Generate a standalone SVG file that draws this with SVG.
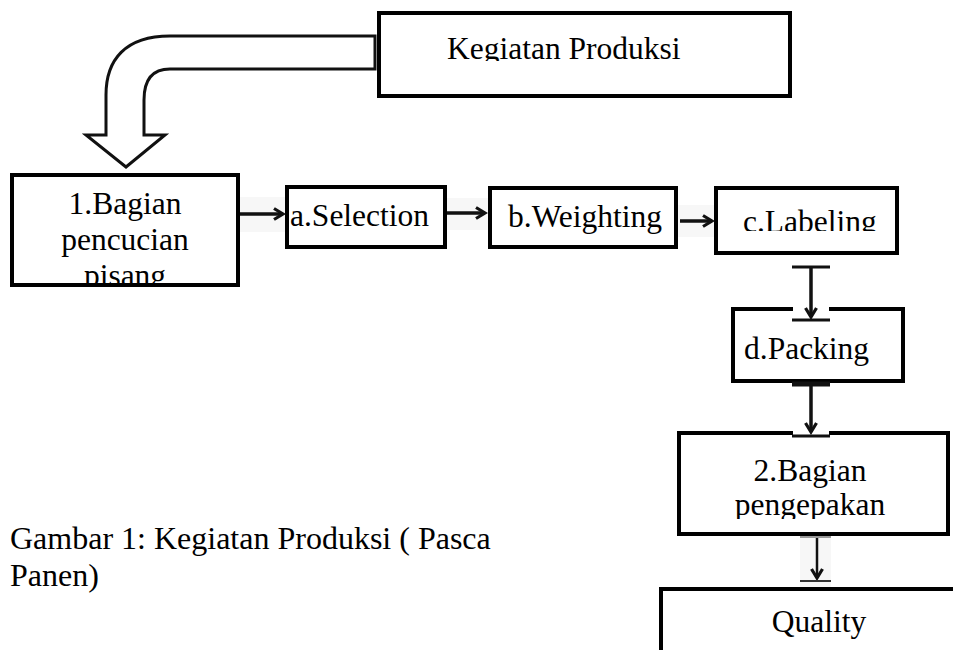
<svg xmlns="http://www.w3.org/2000/svg" width="953" height="650" viewBox="0 0 953 650">
<style>
.box{fill:#fff;stroke:#000;stroke-width:4}
.t{font-family:"Liberation Serif","Times New Roman",serif;font-size:31.5px;fill:#000}
.cap{font-family:"Liberation Serif","Times New Roman",serif;font-size:32px;fill:#000}
.c{text-anchor:middle}
.ln{stroke:#111;stroke-width:3.5;fill:none}
.bar{stroke:#111;stroke-width:3}
.patch{fill:#f7f7f7}
</style>
<defs>
<marker id="ah" markerWidth="14" markerHeight="14" refX="11" refY="7" orient="auto" markerUnits="userSpaceOnUse">
<path d="M2,1.5 L11,7 L2,12.5" fill="none" stroke="#111" stroke-width="3.2"/>
</marker>
<clipPath id="cK"><rect x="380" y="15" width="410" height="46"/></clipPath>
<clipPath id="c1"><rect x="14" y="177" width="222" height="106"/></clipPath>
<clipPath id="cC"><rect x="718" y="190" width="177" height="41"/></clipPath>
<clipPath id="c2"><rect x="681" y="435" width="265" height="84"/></clipPath>
</defs>

<g id="kegiatan">
<rect class="box" x="379" y="13" width="411" height="83"/>
<text class="t" x="447" y="59" clip-path="url(#cK)">Kegiatan Produksi</text>
</g>

<g id="bagian1">
<rect class="box" x="12" y="175" width="226" height="110"/>
<g clip-path="url(#c1)">
<text class="t c" x="125" y="214">1.Bagian</text>
<text class="t c" x="125" y="250">pencucian</text>
<text class="t c" x="125" y="286">pisang</text>
</g>
</g>

<g id="selection">
<rect class="box" x="287" y="187" width="158" height="60"/>
<text class="t" x="290" y="226">a.Selection</text>
</g>

<g id="weighting">
<rect class="box" x="490" y="188" width="186" height="59"/>
<text class="t" x="508" y="227">b.Weighting</text>
</g>

<g id="labeling">
<rect class="box" x="716" y="188" width="181" height="65"/>
<text class="t" x="743" y="232" clip-path="url(#cC)">c.Labeling</text>
</g>

<g id="packing">
<rect class="box" x="733" y="309" width="170" height="72"/>
<text class="t" x="744" y="359">d.Packing</text>
</g>

<g id="bagian2">
<rect class="box" x="679" y="433" width="269" height="101"/>
<g clip-path="url(#c2)">
<text class="t c" x="810" y="481">2.Bagian</text>
<text class="t c" x="810" y="515">pengepakan</text>
</g>
</g>

<g id="quality">
<rect class="box" x="661" y="589" width="300" height="80"/>
<text class="t c" x="819" y="632">Quality</text>
</g>

<g id="caption">
<text class="cap" x="10" y="549">Gambar 1: Kegiatan Produksi ( Pasca</text>
<text class="cap" x="10" y="586">Panen)</text>
</g>

<g id="connectors">
<path d="M375,36 L170,36 C125,36 106,60 106,95 L106,135 L86,135 L126,167 L165,135 L144,135 L144,100 C144,80 152,69 170,69 L375,69 Z" fill="#fff" stroke="#111" stroke-width="3" stroke-linejoin="miter"/>

<rect class="patch" x="240" y="197" width="45" height="35"/>
<line class="ln" x1="240" y1="214" x2="283" y2="214" marker-end="url(#ah)"/>

<rect class="patch" x="447" y="198" width="41" height="32"/>
<line class="ln" x1="447" y1="213" x2="485" y2="213" marker-end="url(#ah)"/>

<rect class="patch" x="678" y="205" width="36" height="32"/>
<line class="ln" x1="680" y1="221" x2="712" y2="221" marker-end="url(#ah)"/>

<rect x="793" y="306" width="36" height="8" fill="#fff"/>
<line class="bar" x1="792" y1="267" x2="830" y2="267"/>
<line class="ln" x1="811" y1="267" x2="811" y2="317" marker-end="url(#ah)"/>
<line class="bar" x1="792" y1="320" x2="830" y2="320"/>

<line x1="792" y1="384" x2="830" y2="384" stroke="#111" stroke-width="5"/>
<rect x="793" y="430" width="36" height="8" fill="#fff"/>
<line class="ln" x1="811" y1="384" x2="811" y2="432" marker-end="url(#ah)"/>
<line class="bar" x1="792" y1="436" x2="830" y2="436"/>

<rect class="patch" x="800" y="536" width="31" height="51"/>
<line x1="800" y1="537" x2="831" y2="537" stroke="#999" stroke-width="2"/>
<line x1="817" y1="538" x2="817" y2="578" stroke="#111" stroke-width="2.5" marker-end="url(#ah)"/>
<line x1="800" y1="581" x2="831" y2="581" stroke="#333" stroke-width="2"/>
</g>
</svg>
